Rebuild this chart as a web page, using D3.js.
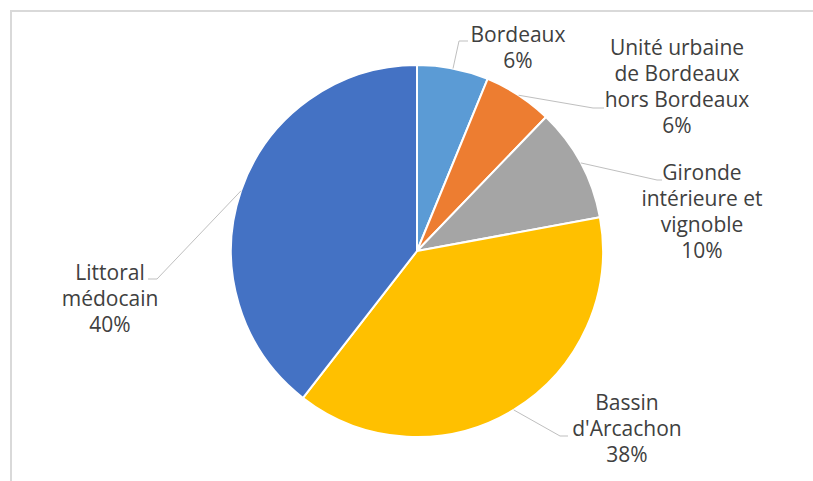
<!DOCTYPE html>
<html>
<head>
<meta charset="utf-8">
<script src="https://cdn.jsdelivr.net/npm/d3@7"></script>
<style>
  html, body { margin: 0; padding: 0; background: #fff; }
  svg { display: block; }
</style>
</head>
<body>
<svg id="chart" width="813" height="481"></svg>
<script>
// Data
const categories = ["Bordeaux", "Unité urbaine de Bordeaux hors Bordeaux", "Gironde intérieure et vignoble", "Bassin d'Arcachon", "Littoral médocain"];
const values = [6.2, 6.0, 9.9, 38.4, 39.5];
const labelLines = [
  ["Bordeaux"],
  ["Unité urbaine", "de Bordeaux", "hors Bordeaux"],
  ["Gironde", "intérieure et", "vignoble"],
  ["Bassin", "d'Arcachon"],
  ["Littoral", "médocain"]
];
const colors = ["#5B9BD5", "#ED7D31", "#A5A5A5", "#FFC000", "#4472C4"];

// Layout (label placement)
const cx = 417, cy = 251, r = 186;
const labelLayout = [
  { x: 518, y: 42, elbow: [459, 41], end: [468, 41] },
  { x: 677, y: 55, elbow: [593, 108], end: [604, 108] },
  { x: 702, y: 180, elbow: [657, 180], end: [662, 180] },
  { x: 627, y: 410, elbow: [560, 436], end: [568, 436] },
  { x: 110, y: 280, elbow: [157, 279], end: [148, 279] }
];
const lineH = 26;

const svg = d3.select("#chart");

// Border
svg.append("rect")
  .attr("x", 11).attr("y", 11)
  .attr("width", 900).attr("height", 600)
  .attr("fill", "none")
  .attr("stroke", "#d9d9d9")
  .attr("stroke-width", 2);

const pie = d3.pie().sort(null).value(d => d);
const arcs = pie(values);
const arc = d3.arc().innerRadius(0).outerRadius(r);

const g = svg.append("g").attr("transform", `translate(${cx},${cy})`);
g.selectAll("path.slice")
  .data(arcs)
  .join("path")
  .attr("class", "slice")
  .attr("d", arc)
  .attr("fill", (d, i) => colors[i])
  .attr("stroke", "#fff")
  .attr("stroke-width", 2)
  .attr("stroke-linejoin", "round");

// Leader lines
arcs.forEach((d, i) => {
  const mid = (d.startAngle + d.endAngle) / 2;
  const sx = cx + r * Math.sin(mid);
  const sy = cy - r * Math.cos(mid);
  const L = labelLayout[i];
  svg.append("polyline")
    .attr("points", `${sx},${sy} ${L.elbow[0]},${L.elbow[1]} ${L.end[0]},${L.end[1]}`)
    .attr("fill", "none")
    .attr("stroke", "#bfbfbf")
    .attr("stroke-width", 1);
});

// Labels
const total = d3.sum(values);
arcs.forEach((d, i) => {
  const L = labelLayout[i];
  const lines = labelLines[i].concat([Math.round(d.value / total * 100) + "%"]);
  const t = svg.append("text")
    .attr("text-anchor", "middle")
    .attr("font-family", "'Open Sans', sans-serif")
    .attr("font-size", 21)
    .attr("fill", "#404040");
  lines.forEach((ln, k) => {
    t.append("tspan").attr("x", L.x).attr("y", L.y + k * lineH).text(ln);
  });
});
</script>
</body>
</html>
